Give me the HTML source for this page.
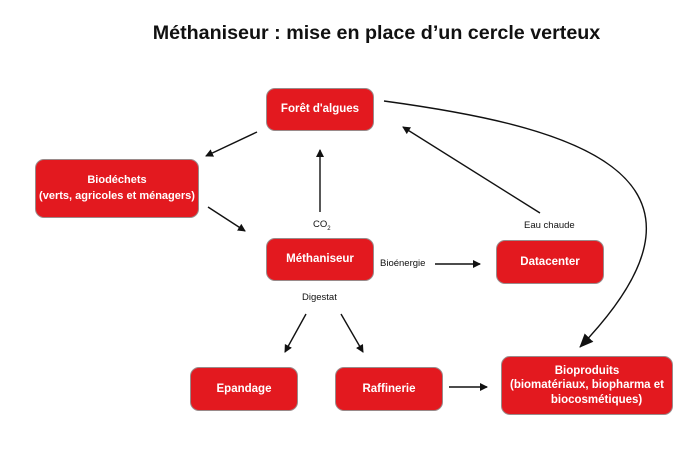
<!DOCTYPE html>
<html><head><meta charset="utf-8"><style>
body{margin:0;width:695px;height:460px;background:#fff;font-family:"Liberation Sans",sans-serif;position:relative;overflow:hidden}
.b{position:absolute;background:#e3191f;border:1.5px solid #9a8a8a;border-radius:9px;color:#fff;font-weight:bold;font-size:11.5px;display:flex;align-items:center;justify-content:center;text-align:center;box-sizing:border-box;line-height:1.45}
.t{position:absolute;font-size:9.5px;color:#111}
h1{position:absolute;left:0;top:22px;width:100%;margin:0;padding-left:58px;box-sizing:border-box;text-align:center;font-size:19.7px;font-weight:bold;color:#111}
</style></head><body>
<h1>Méthaniseur : mise en place d’un cercle verteux</h1>
<svg width="695" height="460" style="position:absolute;left:0;top:0">
<defs><marker id="a" markerWidth="8" markerHeight="8" refX="7" refY="4" orient="auto" markerUnits="userSpaceOnUse"><path d="M0,0 L8,4 L0,8z" fill="#111"/></marker>
<marker id="c" markerWidth="14" markerHeight="12" refX="13" refY="6" orient="auto" markerUnits="userSpaceOnUse"><path d="M0,0 L14,6 L0,12z" fill="#111"/></marker></defs>
<g stroke="#111" stroke-width="1.4" fill="none">
<line x1="257" y1="132" x2="206" y2="156" marker-end="url(#a)"/>
<line x1="208" y1="207" x2="245" y2="231" marker-end="url(#a)"/>
<line x1="320" y1="212" x2="320" y2="150" marker-end="url(#a)"/>
<line x1="540" y1="213" x2="403" y2="127" marker-end="url(#a)"/>
<line x1="435" y1="264" x2="480" y2="264" marker-end="url(#a)"/>
<line x1="306" y1="314" x2="285" y2="352" marker-end="url(#a)"/>
<line x1="341" y1="314" x2="363" y2="352" marker-end="url(#a)"/>
<line x1="449" y1="387" x2="487" y2="387" marker-end="url(#a)"/>
<path d="M384,101 C560,125 750,170 580,347" marker-end="url(#c)"/>
</g></svg>
<div class="b" style="left:266px;top:88px;width:108px;height:43px">Forêt d'algues</div>
<div class="b" style="left:35px;top:159px;width:164px;height:59px;white-space:nowrap;font-size:11px">Biodéchets<br>(verts, agricoles et ménagers)</div>
<div class="b" style="left:266px;top:238px;width:108px;height:43px">Méthaniseur</div>
<div class="b" style="left:496px;top:240px;width:108px;height:44px">Datacenter</div>
<div class="b" style="left:190px;top:367px;width:108px;height:44px">Epandage</div>
<div class="b" style="left:335px;top:367px;width:108px;height:44px">Raffinerie</div>
<div class="b" style="left:501px;top:356px;width:172px;height:59px;line-height:1.25">Bioproduits<br>(biomatériaux, biopharma et<br>&nbsp;&nbsp;&nbsp;&nbsp;&nbsp;&nbsp;biocosmétiques)</div>
<div class="t" style="left:313px;top:219px">CO<sub style="font-size:6px">2</sub></div>
<div class="t" style="left:524px;top:220px">Eau chaude</div>
<div class="t" style="left:380px;top:258px">Bioénergie</div>
<div class="t" style="left:302px;top:292px">Digestat</div>
</body></html>
